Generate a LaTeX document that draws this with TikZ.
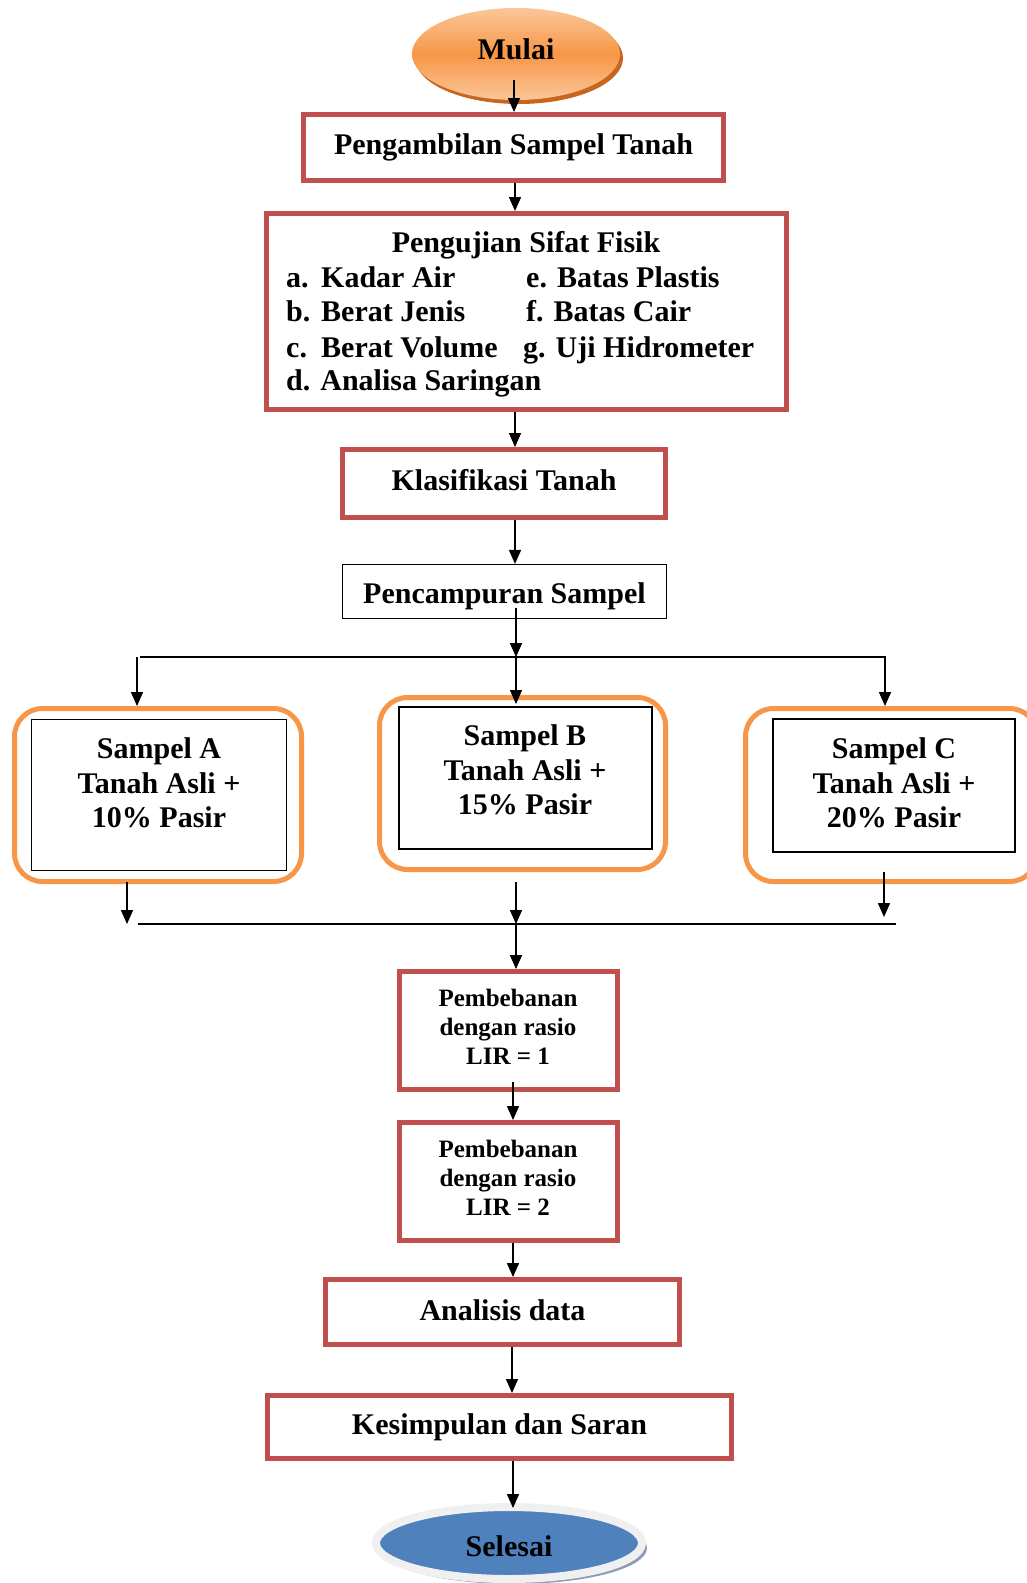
\documentclass[tikz,border=0pt]{standalone}
\usepackage{fontspec}
\setmainfont{Liberation Serif}
\usetikzlibrary{arrows.meta,shapes.geometric,shadows}
\definecolor{redb}{HTML}{C0504D}
\definecolor{orb}{HTML}{F79646}
\definecolor{orlight}{HTML}{FAC79A}
\definecolor{ordark}{HTML}{C8661E}
\definecolor{blueb}{HTML}{4F81BD}
\definecolor{ringg}{HTML}{F0F0F0}
\definecolor{shadowb}{HTML}{8A9CB8}
\begin{document}
\begin{tikzpicture}[x=1pt,y=-1pt,
  every node/.style={font=\fontsize{30}{34.5}\selectfont\bfseries, inner sep=0pt, align=center},
  redbox/.style={draw=redb, line width=5pt, rectangle},
  blkbox/.style={draw=black, line width=1.5pt, rectangle},
  orbox/.style={draw=orb, line width=5pt, rounded corners=28pt, rectangle},
  smallfont/.style={font=\fontsize{25}{29.3}\selectfont\bfseries},
  itemtext/.style={anchor=base west},
  arr/.style={-{Triangle[length=14pt,width=12pt]}, line width=1.5pt},
  ln/.style={line width=1.5pt}]
\useasboundingbox (0,0) rectangle (1027,1583);

% spine
\coordinate (spine) at (515,0);

% Mulai
\node[ellipse, minimum width=208pt, minimum height=92pt,
      top color=orlight, bottom color=orlight, middle color=orb,
      drop shadow={shadow xshift=3pt, shadow yshift=-4pt, fill=ordark, opacity=1}]
      (mulai) at (516,54) {};
\node (mulait) at (516,49) {Mulai};

% Box 1
\node[redbox, minimum width=420pt, minimum height=66pt] (b1) at (513.5,147.5) {Pengambilan Sampel Tanah};

% Box 2
\node[redbox, minimum width=520pt, minimum height=196pt] (b2) at (526.5,311.5) {};
\node[anchor=base] (b2t) at (526,252) {Pengujian Sifat Fisik};
\node[itemtext] (ia) at (286,287) {\makebox[35pt][l]{a.}Kadar Air};
\node[itemtext] (ib) at (286,321) {\makebox[35pt][l]{b.}Berat Jenis};
\node[itemtext] (ic) at (286,357) {\makebox[35pt][l]{c.}Berat Volume};
\node[itemtext] (id) at (286,390) {d. Analisa Saringan};
\node[itemtext] (ie) at (526,287) {e. Batas Plastis};
\node[itemtext] (if) at (526,321) {f. Batas Cair};
\node[itemtext] (ig) at (523,357) {g. Uji Hidrometer};

% Box 3
\node[redbox, minimum width=323pt, minimum height=68pt] (b3) at (504,483.5) {};
\node (b3t) at (504,480) {Klasifikasi Tanah};

% Box 4
\node[draw=black, line width=1.2pt, minimum width=324pt, minimum height=54pt] (b4) at (504.5,591.5) {};
\node (b4t) at (504.5,596.5) {Pencampuran Sampel};

% Samples
\node[orbox, minimum width=287pt, minimum height=173pt] (sa) at (158,795) {};
\node[blkbox, minimum width=255pt, minimum height=151pt] (sai) at (159,795) {};
\node (sat) at (159,783) {Sampel A\\Tanah Asli +\\10\% Pasir};

\node[orbox, minimum width=286pt, minimum height=172pt] (sb) at (522.5,783.5) {};
\node[blkbox, minimum width=253pt, minimum height=142pt] (sbi) at (525.5,778) {};
\node (sbt) at (525,770) {Sampel B\\Tanah Asli +\\15\% Pasir};

\node[orbox, minimum width=292pt, minimum height=173pt] (sc) at (891.5,795) {};
\node[blkbox, minimum width=242pt, minimum height=133pt] (sci) at (894,785.5) {};
\node (sct) at (894,783) {Sampel C\\Tanah Asli +\\20\% Pasir};

% LIR boxes
\node[redbox, minimum width=218pt, minimum height=118pt] (l1) at (508.5,1030.5) {};
\node[smallfont] (l1t) at (508,1027) {Pembebanan\\dengan rasio\\LIR = 1};
\node[redbox, minimum width=218pt, minimum height=118pt] (l2) at (508.5,1181.5) {};
\node[smallfont] (l2t) at (508,1178) {Pembebanan\\dengan rasio\\LIR = 2};

% Analisis, Kesimpulan
\node[redbox, minimum width=354pt, minimum height=65pt] (an) at (502.5,1312) {};
\node (ant) at (502.5,1310) {Analisis data};
\node[redbox, minimum width=464pt, minimum height=63pt] (ks) at (499.5,1427) {Kesimpulan dan Saran};

% Selesai
\node[ellipse, minimum width=266pt, minimum height=72pt, fill=shadowb] (selsh) at (514,1548) {};
\node[ellipse, minimum width=266pt, minimum height=72pt, draw=ringg, line width=8pt, fill=blueb] (sel) at (509,1543) {};
\node (selt) at (509,1546) {Selesai};

% connector coordinates
\coordinate (top1) at (140,657);
\coordinate (top2) at (886,657);
\coordinate (bot1) at (138,924);
\coordinate (bot2) at (896,924);
\coordinate (junt) at (516,657);
\coordinate (junb) at (516,924);

\draw[arr] (514,80) -- (b1.north -| 514,0);
\draw[arr] (b1.south -| spine) -- (b2.north -| spine);
\draw[arr] (b2.south -| spine) -- (b3.north -| spine);
\draw[arr] (b3.south -| spine) -- (b4.north -| spine);
\draw[arr] (516,608) -- (junt);
\draw[ln] (top1) -- (top2);
\draw[arr] (top1 -| 137,0) -- (sa.north -| 137,0);
\draw[arr] (junt) -- (516,704);
\draw[arr] (top2 -| 885,0) -- (sc.north -| 885,0);

\draw[ln] (bot1) -- (bot2);
\draw[arr] (127,882) -- (127,924);
\draw[arr] (516,882) -- (junb);
\draw[arr] (884,872) -- (884,917);
\draw[arr] (junb) -- (l1.north -| junb);

\draw[arr] (513,1082) -- (l2.north -| 513,0);
\draw[arr] (l2.south -| 513,0) -- (an.north -| 513,0);
\draw[arr] (an.south -| 512,0) -- (ks.north -| 512,0);
\draw[arr] (ks.south -| 513,0) -- (513,1508);
\end{tikzpicture}
\end{document}
